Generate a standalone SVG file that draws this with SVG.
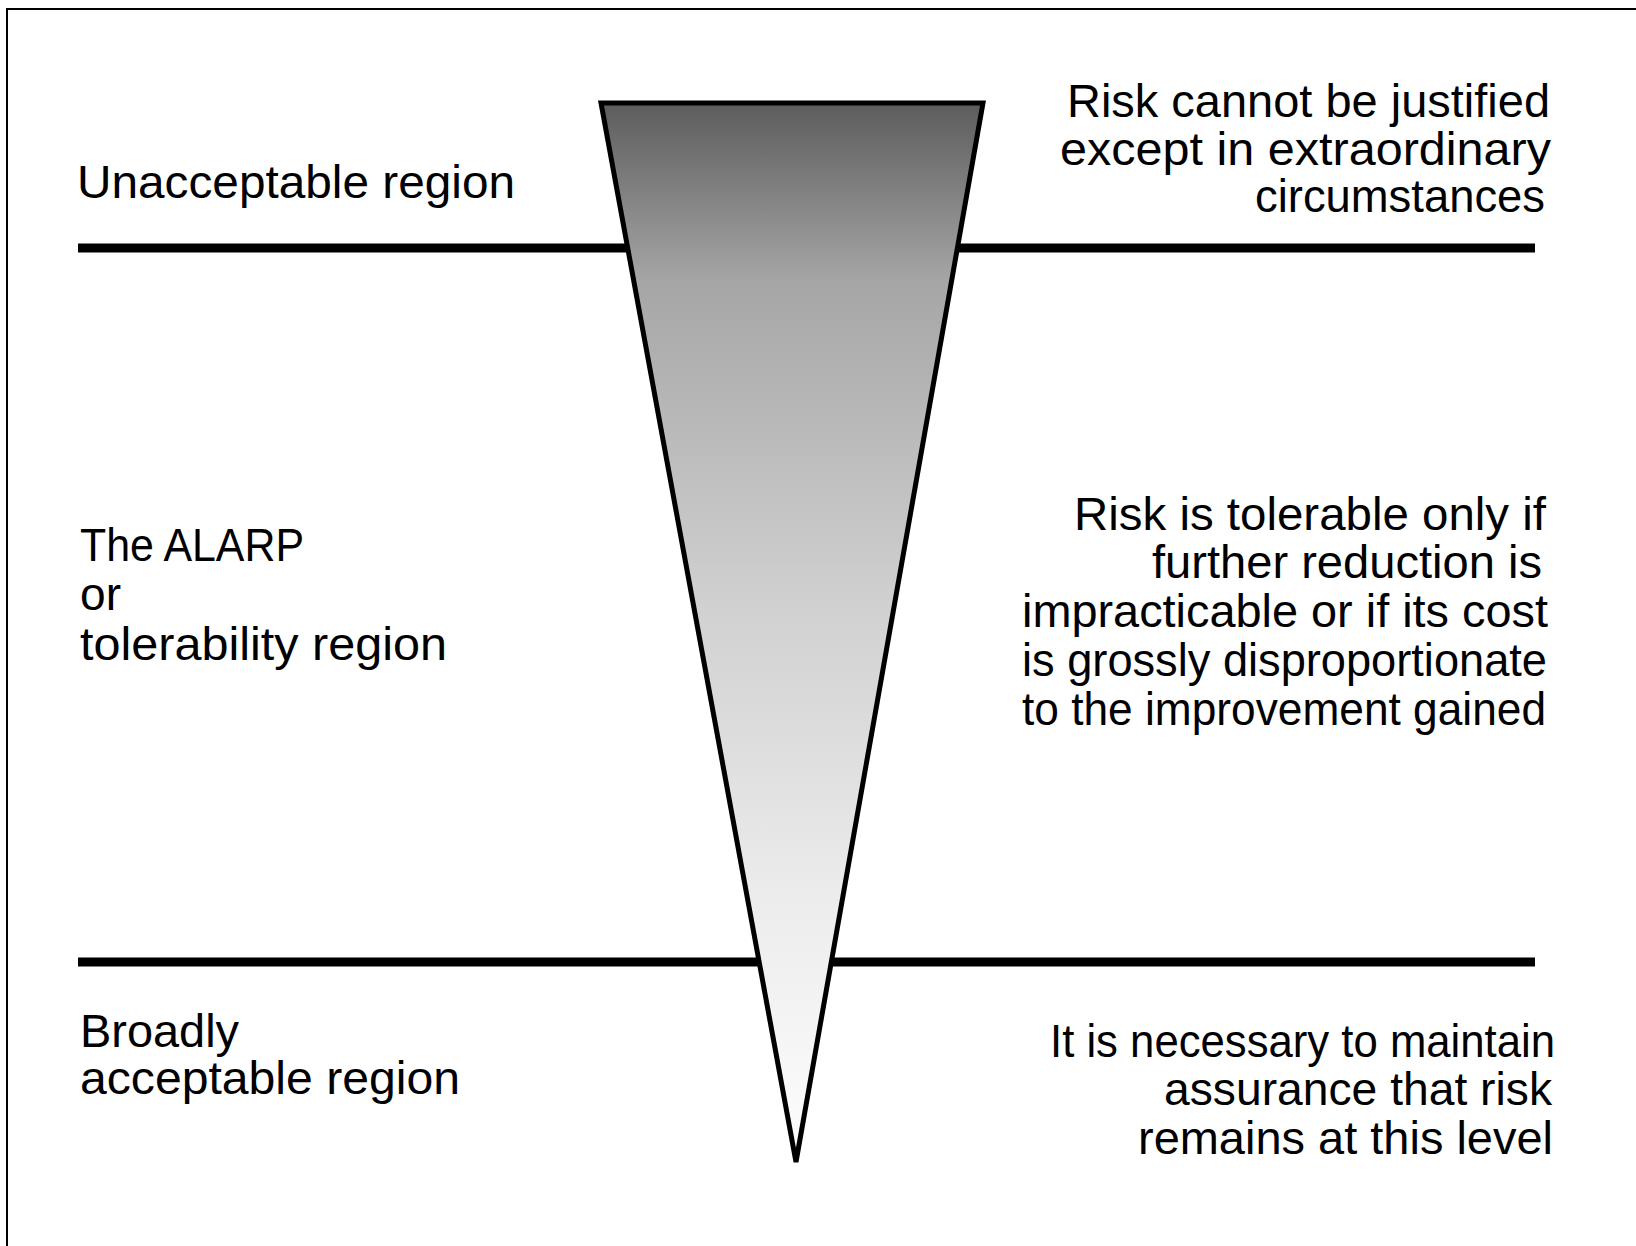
<svg xmlns="http://www.w3.org/2000/svg" width="1636" height="1246" viewBox="0 0 1636 1246">
  <style>
    .t { font-family: "Liberation Sans", Arial, sans-serif; font-size: 47px; fill: #000; }
    .r { text-anchor: end; }
    .bar { stroke: #000; stroke-width: 9; fill: none; }
  </style>
  <defs>
    <linearGradient id="grad" x1="0" y1="102" x2="0" y2="1162" gradientUnits="userSpaceOnUse">
      <stop offset="0" stop-color="#5c5c5c"/>
      <stop offset="0.17" stop-color="#a6a6a6"/>
      <stop offset="0.47" stop-color="#d0d0d0"/>
      <stop offset="0.75" stop-color="#ececec"/>
      <stop offset="1" stop-color="#fdfdfd"/>
    </linearGradient>
  </defs>
  <rect width="1636" height="1246" fill="#fff"/>
  <path d="M7,1246 V9 H1636" fill="none" stroke="#000" stroke-width="2"/>

  <g id="connectors">
    <line class="bar" x1="78" y1="248" x2="1535" y2="248"/>
    <line class="bar" x1="78" y1="962" x2="1535" y2="962"/>
  </g>

  <g id="triangle">
    <polygon points="601,103 983,103 796,1162" fill="url(#grad)" stroke="#000" stroke-width="5"/>
  </g>

  <g id="unacceptable-label">
    <text class="t" x="77" y="198" textLength="438" lengthAdjust="spacingAndGlyphs">Unacceptable region</text>
  </g>
  <g id="unacceptable-desc">
    <text class="t r" x="1550" y="117" textLength="483" lengthAdjust="spacingAndGlyphs">Risk cannot be justified</text>
    <text class="t r" x="1551" y="165" textLength="491" lengthAdjust="spacingAndGlyphs">except in extraordinary</text>
    <text class="t r" x="1545" y="212" textLength="290" lengthAdjust="spacingAndGlyphs">circumstances</text>
  </g>

  <g id="alarp-label">
    <text class="t" x="80" y="561" textLength="224" lengthAdjust="spacingAndGlyphs">The ALARP</text>
    <text class="t" x="80" y="610" textLength="41" lengthAdjust="spacingAndGlyphs">or</text>
    <text class="t" x="80" y="660" textLength="367" lengthAdjust="spacingAndGlyphs">tolerability region</text>
  </g>
  <g id="alarp-desc">
    <text class="t r" x="1546" y="530" textLength="472" lengthAdjust="spacingAndGlyphs">Risk is tolerable only if</text>
    <text class="t r" x="1542" y="578" textLength="390" lengthAdjust="spacingAndGlyphs">further reduction is</text>
    <text class="t r" x="1548" y="627" textLength="526" lengthAdjust="spacingAndGlyphs">impracticable or if its cost</text>
    <text class="t r" x="1547" y="676" textLength="525" lengthAdjust="spacingAndGlyphs">is grossly disproportionate</text>
    <text class="t r" x="1546" y="725" textLength="524" lengthAdjust="spacingAndGlyphs">to the improvement gained</text>
  </g>

  <g id="broadly-label">
    <text class="t" x="80" y="1047" textLength="159" lengthAdjust="spacingAndGlyphs">Broadly</text>
    <text class="t" x="80" y="1094" textLength="380" lengthAdjust="spacingAndGlyphs">acceptable region</text>
  </g>
  <g id="broadly-desc">
    <text class="t r" x="1555" y="1057" textLength="505" lengthAdjust="spacingAndGlyphs">It is necessary to maintain</text>
    <text class="t r" x="1552" y="1105" textLength="388" lengthAdjust="spacingAndGlyphs">assurance that risk</text>
    <text class="t r" x="1553" y="1154" textLength="415" lengthAdjust="spacingAndGlyphs">remains at this level</text>
  </g>
</svg>
